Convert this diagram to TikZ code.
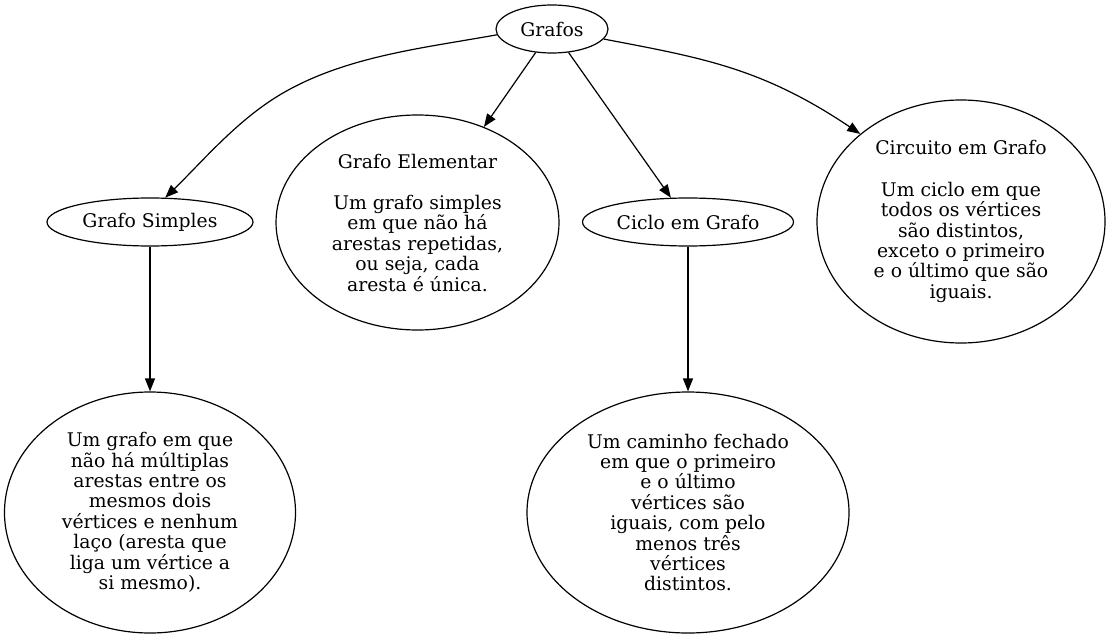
\documentclass[tikz,border=0pt]{standalone}
\usepackage{fontspec}
\setmainfont{DejaVu Serif}
\usepackage{tikz}
\usetikzlibrary{arrows.meta,shapes.geometric}

\begin{document}
\begin{tikzpicture}[x=1pt, y=-1pt, line width=1.2pt,
  vertex/.style={ellipse, draw, align=center, inner sep=0pt,
    font=\fontsize{18.8pt}{20.4pt}\selectfont},
  edge/.style={-{Triangle[length=13pt, width=10pt]}}]
  \useasboundingbox (0,0) rectangle (1110,639);

  % Root
  \node[vertex, minimum width=112pt, minimum height=48pt] (grafos) at (552,29) {Grafos};

  % Second level
  \node[vertex, minimum width=206pt, minimum height=48pt] (simples) at (150,222) {Grafo Simples};
  \node[vertex, minimum width=283pt, minimum height=215pt] (elementar) at (417.5,222.5)
    {Grafo Elementar\\[21pt]Um grafo simples\\em que não há\\arestas repetidas,\\ou seja, cada\\aresta é única.};
  \node[vertex, minimum width=211pt, minimum height=48pt] (ciclo) at (688,222) {Ciclo em Grafo};
  \node[vertex, minimum width=288pt, minimum height=243pt] (circuito) at (961,221.5)
    {Circuito em Grafo\\[21pt]Um ciclo em que\\todos os vértices\\são distintos,\\exceto o primeiro\\e o último que são\\iguais.};

  % Descriptions
  \node[vertex, minimum width=291pt, minimum height=241pt] (simplesdesc) at (150,512.5)
    {Um grafo em que\\não há múltiplas\\arestas entre os\\mesmos dois\\vértices e nenhum\\laço (aresta que\\liga um vértice a\\si mesmo).};
  \node[vertex, minimum width=322pt, minimum height=241pt] (ciclodesc) at (688,512.5)
    {Um caminho fechado\\em que o primeiro\\e o último\\vértices são\\iguais, com pelo\\menos três\\vértices\\distintos.};

  % Curved edges
  \coordinate (bend) at (283,93);
  \draw[edge] (grafos.186) .. controls (424,48) and (347,56) .. (bend)
    .. controls (238,119) and (203,161) .. (simples.58);
  \draw[edge] (grafos.-11) .. controls (703,58) and (762,68) .. (circuito.139);

  % Straight edges
  \draw[edge] (grafos) to (elementar);
  \draw[edge] (grafos) to (ciclo);
  \draw[edge] (simples) to (simplesdesc);
  \draw[edge] (ciclo) to (ciclodesc);
\end{tikzpicture}
\end{document}
